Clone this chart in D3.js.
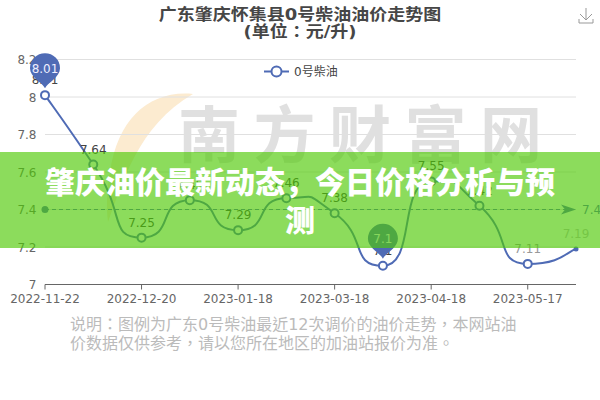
<!DOCTYPE html>
<html><head><meta charset="utf-8">
<script src="https://cdn.jsdelivr.net/npm/d3@7/dist/d3.min.js"></script>
<style>html,body{margin:0;padding:0;background:#fff}svg{display:block}</style></head>
<body><svg id="c" width="600" height="400"></svg>
<script>
const categories=["2022-11-22","2022-12-05","2022-12-20","2023-01-03","2023-01-18","2023-02-03","2023-03-18","2023-04-03","2023-04-18","2023-05-04","2023-05-17","2023-05-31"];
const values=[8.01,7.64,7.25,7.45,7.29,7.46,7.38,7.10,7.55,7.42,7.11,7.19];
const shownTicks=["2022-11-22","2022-12-20","2023-01-18","2023-03-18","2023-04-18","2023-05-17"];
const yTicks=[7,7.2,7.4,7.6,7.8,8,8.2];
const yTickLabels=["7","7.2","7.4","7.6","7.8","8","8.2"];
const averageValue=7.4;
const pinned=[0,7];
const seriesName="0号柴油";
const titleLines=["广东肇庆怀集县0号柴油油价走势图","(单位：元/升)"];
const noteLines=["说明：图例为广东0号柴油最近12次调价的油价走势，本网站油","价数据仅供参考，请以您所在地区的加油站报价为准。"];
const bannerLines=["肇庆油价最新动态，今日价格分析与预","测"];
const watermark=["南","方","财","富","网"];
const fadedLabels={10:"#999",11:"#bdbdbd"};

const LAT='"DejaVu Sans",sans-serif';
const CJK='"Noto Sans CJK SC","DejaVu Sans",sans-serif';
const MIX='"DejaVu Sans","Noto Sans CJK TC",sans-serif';
const svg=d3.select("#c");
const x=d3.scalePoint().domain(categories).range([45,576]);
const y=d3.scaleLinear().domain([7,8.2]).range([284.5,59.5]);

// watermark
const wm=svg.append("g");
wm.append("path").attr("d","M193 94 C150 90 118 118 110 172 C107 190 106 205 108 222 C122 185 138 125 193 94Z").attr("fill","#fcebd0");
const wmX=d3.scalePoint().domain(watermark).range([209,511]);
wm.selectAll("text").data(watermark).join("text").attr("x",d=>wmX(d)).attr("y",158).attr("text-anchor","middle")
  .attr("font-family",CJK).attr("font-weight",700).attr("font-size",62).attr("fill","#e0e0e0").text(d=>d);

// grid
svg.append("g").selectAll("line").data(yTicks.slice(1)).join("line")
  .attr("x1",45).attr("x2",576).attr("y1",d=>y(d)).attr("y2",d=>y(d)).attr("stroke","#e0e0e0");
// y labels
svg.append("g").selectAll("text").data(yTicks).join("text").attr("x",36.5).attr("y",d=>y(d)+4.5).attr("text-anchor","end")
  .attr("font-family",LAT).attr("font-size",12).attr("fill","#666").text((d,i)=>yTickLabels[i]);
// x axis
svg.append("line").attr("x1",45).attr("x2",576).attr("y1",284.5).attr("y2",284.5).attr("stroke","#666");
const tg=svg.append("g").selectAll("g").data(shownTicks).join("g").attr("transform",d=>`translate(${x(d)},284.5)`);
tg.append("line").attr("y2",5).attr("stroke","#666");
tg.append("text").attr("y",18.5).attr("text-anchor","middle").attr("font-family",LAT).attr("font-size",12).attr("fill","#666").text(d=>d);

// smooth curve: flat tangents at local extrema, long handles
function SmoothCurve(ctx){this.c=ctx;this.p=[];}
SmoothCurve.prototype={areaStart(){},areaEnd(){},lineStart(){this.p=[];},point(a,b){this.p.push([a,b]);},
 lineEnd(){const P=this.p,n=P.length,k=0.7;const t=P.map((q,i)=>{
   if(i===0||i===n-1)return null;
   const a=q[1]-P[i-1][1],b=P[i+1][1]-q[1];
   if(a*b<=0)return 0;
   return (P[i+1][1]-P[i-1][1])/(P[i+1][0]-P[i-1][0]);});
  this.c.moveTo(P[0][0],P[0][1]);
  for(let i=0;i<n-1;i++){const d=P[i+1][0]-P[i][0];
   const t0=t[i],t1=t[i+1];
   const c1=t0===null?[P[i][0]+d*0.2,P[i][1]+(P[i+1][1]-P[i][1])*0.2]:[P[i][0]+d*k,P[i][1]+t0*d*k];
   const c2=t1===null?[P[i+1][0]-d*0.2,P[i+1][1]-(P[i+1][1]-P[i][1])*0.2]:[P[i+1][0]-d*k,P[i+1][1]-t1*d*k];
   this.c.bezierCurveTo(c1[0],c1[1],c2[0],c2[1],P[i+1][0],P[i+1][1]);}
 }};
const line=d3.line().x((d,i)=>x(categories[i])).y(d=>y(d)).curve(c=>new SmoothCurve(c));
const BLUE="#4f6bb5";
svg.append("path").attr("d",line(values)).attr("fill","none").attr("stroke",BLUE).attr("stroke-width",2);

// average line
const ay=y(averageValue);
svg.append("line").attr("x1",45).attr("x2",566).attr("y1",ay).attr("y2",ay).attr("stroke",BLUE).attr("stroke-dasharray","4 3");
svg.append("circle").attr("cx",45).attr("cy",ay).attr("r",3.5).attr("fill",BLUE);
svg.append("path").attr("d",`M576 ${ay} L561 ${ay-5} L565 ${ay} L561 ${ay+5}Z`).attr("fill",BLUE);
svg.append("text").attr("x",582).attr("y",ay+4.5).attr("font-family",LAT).attr("font-size",12).attr("fill",BLUE).text(averageValue);

// point labels
svg.append("g").selectAll("text").data(values).join("text").attr("x",(d,i)=>x(categories[i])).attr("y",d=>y(d)-11)
 .attr("text-anchor","middle").attr("font-family",LAT).attr("font-size",12).attr("fill",(d,i)=>fadedLabels[i]||"#444").text(d=>d);
// points
svg.append("g").selectAll("circle").data(values).join("circle").attr("cx",(d,i)=>x(categories[i])).attr("cy",d=>y(d))
 .attr("r",(d,i)=>i===values.length-1?2.5:4).attr("fill",(d,i)=>i===values.length-1?BLUE:"#fff").attr("stroke",BLUE).attr("stroke-width",(d,i)=>i===values.length-1?0:2);
// pins
const pg=svg.append("g").selectAll("g").data(pinned).join("g").attr("transform",i=>`translate(${x(categories[i])},${y(values[i])-7})`);
pg.append("path").attr("d","M0 0 C-3 -6 -15 -11 -15 -20 A15 15 0 1 1 15 -20 C15 -11 3 -6 0 0Z").attr("fill",BLUE);
pg.append("text").attr("y",-15.5).attr("text-anchor","middle").attr("font-family",LAT).attr("font-size",12).attr("fill","#eef").text(i=>values[i]);

// legend
const lg=svg.append("g").attr("transform","translate(0,71.5)");
lg.append("line").attr("x1",264).attr("x2",289).attr("stroke",BLUE).attr("stroke-width",2);
lg.append("circle").attr("cx",276.5).attr("r",5).attr("fill","#fff").attr("stroke",BLUE).attr("stroke-width",2);
lg.append("text").attr("x",294).attr("y",4.5).attr("font-family",MIX).attr("font-size",12).attr("fill","#444").text(seriesName);

// title (glyphs slightly squat in the reference)
svg.append("g").selectAll("text").data(titleLines).join("text")
 .attr("transform",(d,i)=>`translate(300,${20+i*17}) scale(1,0.9)`).attr("text-anchor","middle")
 .attr("font-family",MIX).attr("font-weight",700).attr("font-size",18).attr("fill","#464646").text(d=>d);
// toolbox icon
svg.append("path").attr("d","M586 8 V20 M580 14 L586 20 L592 14 M579 19 V23 H593 V19").attr("fill","none").attr("stroke","#999").attr("stroke-width",1);
// note
svg.append("g").selectAll("text").data(noteLines).join("text").attr("x",70).attr("y",(d,i)=>330+i*19).attr("font-family",MIX).attr("font-size",16).attr("fill","#bbb").text(d=>d);

// banner
svg.append("rect").attr("x",0).attr("y",152).attr("width",600).attr("height",96).attr("fill","rgb(78,201,5)").attr("fill-opacity",0.65);
svg.append("g").selectAll("text").data(bannerLines).join("text").attr("x",300).attr("y",(d,i)=>193+i*38).attr("text-anchor","middle")
 .attr("font-family",CJK).attr("font-weight",900).attr("font-size",30).attr("fill","#fff").text(d=>d);
</script></body></html>
